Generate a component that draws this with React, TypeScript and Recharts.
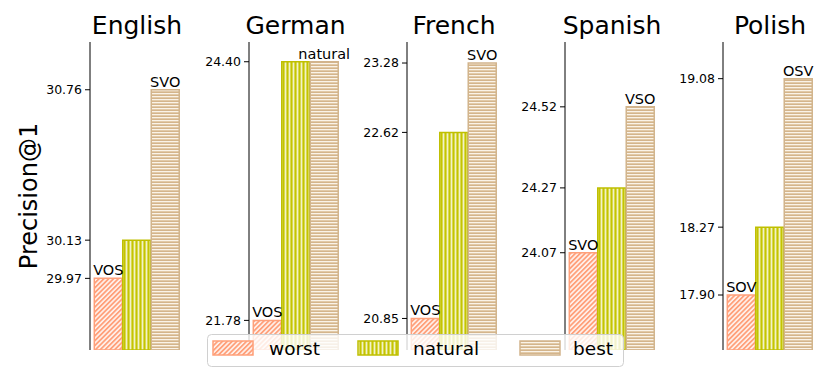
import React from 'react';
import { BarChart, Bar, XAxis, YAxis, Cell, LabelList } from 'recharts';

const languages = ['English', 'German', 'French', 'Spanish', 'Polish'];
const worstScores = [29.97, 21.78, 20.85, 24.07, 17.9];
const naturalScores = [30.13, 24.4, 22.62, 24.27, 18.27];
const bestScores = [30.76, 24.4, 23.28, 24.52, 19.08];
const worstOrders = ['VOS', 'VOS', 'VOS', 'SVO', 'SOV'];
const bestOrders = ['SVO', 'natural', 'SVO', 'VSO', 'OSV'];
const seriesNames = ['worst', 'natural', 'best'];

const FONT = 'DejaVu Sans, Verdana, sans-serif';
const AXIS_X = [90, 248.5, 407, 565, 723];
const PLOT_W = 94;
const YAXIS_W = 50;
const RIGHT_PAD = 20;
const EDGE: Record<string, string> = { worst: '#ffa07a', natural: '#bfbf00', best: '#d2b48c' };

function Patterns({ suffix }: { suffix: string }) {
  return (
    <defs>
      <pattern id={`pat-worst-${suffix}`} width="3.4" height="3.4" patternUnits="userSpaceOnUse" patternTransform="rotate(45)">
        <rect width="3.4" height="3.4" fill="#fff3ee" />
        <rect x="0" y="0" width="1.8" height="3.4" fill="#ffa07a" />
      </pattern>
      <pattern id={`pat-natural-${suffix}`} width="4" height="4" patternUnits="userSpaceOnUse">
        <rect width="4" height="4" fill="#d8d852" />
        <rect x="0" y="0" width="1" height="4" fill="#c4c400" />
        <rect x="2" y="0" width="1" height="4" fill="#f2f2c8" />
      </pattern>
      <pattern id={`pat-best-${suffix}`} width="3" height="3" patternUnits="userSpaceOnUse">
        <rect width="3" height="3" fill="#e2caa8" />
        <rect x="0" y="0" width="3" height="1" fill="#faf3e8" />
        <rect x="0" y="2" width="3" height="1" fill="#d4b58c" />
      </pattern>
    </defs>
  );
}

function Panel({ i }: { i: number }) {
  const data = [
    { name: 'worst', value: worstScores[i], label: worstOrders[i] },
    { name: 'natural', value: naturalScores[i], label: '' },
    { name: 'best', value: bestScores[i], label: bestOrders[i] },
  ];
  const ticks = Array.from(new Set([worstScores[i], naturalScores[i], bestScores[i]]));
  const domain = [worstScores[i] - 0.3, bestScores[i] + 0.2];
  return (
    <div style={{ position: 'absolute', left: AXIS_X[i] - YAXIS_W, top: 0 }}>
      <BarChart
        width={YAXIS_W + PLOT_W + RIGHT_PAD}
        height={369}
        data={data}
        margin={{ top: 42, right: RIGHT_PAD, bottom: 19, left: 0 }}
        barCategoryGap={0}
      >
        <Patterns suffix={String(i)} />
        <XAxis
          dataKey="name"
          tick={false}
          tickLine={false}
          height={0}
          axisLine={{ stroke: '#000', strokeWidth: 1 }}
          padding={{ left: 4.3, right: 4.3 }}
        />
        <YAxis
          type="number"
          domain={domain}
          allowDataOverflow
          ticks={ticks}
          interval={0}
          tickFormatter={(v: number) => v.toFixed(2)}
          width={YAXIS_W}
          tickSize={5}
          tickMargin={3}
          tick={{ fill: '#000', fontSize: 12.5, fontFamily: FONT }}
          axisLine={{ stroke: '#000', strokeWidth: 1 }}
          tickLine={{ stroke: '#000', strokeWidth: 1 }}
        />
        <Bar dataKey="value" isAnimationActive={false} strokeWidth={1.5}>
          {data.map((d) => (
            <Cell key={d.name} fill={`url(#pat-${d.name}-${i})`} stroke={EDGE[d.name]} />
          ))}
          <LabelList
            dataKey="label"
            position="top"
            offset={3}
            style={{ fontSize: 14.5, fill: '#000', fontFamily: FONT }}
          />
        </Bar>
      </BarChart>
    </div>
  );
}

const LEGEND_SWATCH_X = [213, 358, 520];
const LEGEND_TEXT_X = [269, 413, 573];

export default function App() {
  return (
    <div style={{ position: 'fixed', left: 0, top: 0, width: 830, height: 369, background: '#fff', overflow: 'hidden' }}>
      {languages.map((_, i) => (
        <Panel key={i} i={i} />
      ))}
      <svg
        width={830}
        height={369}
        style={{ position: 'absolute', left: 0, top: 0, pointerEvents: 'none' }}
        fontFamily={FONT}
      >
        <Patterns suffix="legend" />
        {languages.map((lang, i) => (
          <text key={lang} x={AXIS_X[i] + PLOT_W / 2} y={34} textAnchor="middle" fontSize={25} fill="#000">
            {lang}
          </text>
        ))}
        <text x={37} y={196} transform="rotate(-90 37 196)" textAnchor="middle" fontSize={24} fill="#000">
          Precision@1
        </text>
        <rect x={207.5} y={334.5} width={416} height={32} rx={4} fill="rgba(255,255,255,0.8)" stroke="#d0d0d0" strokeWidth={1} />
        {seriesNames.map((s, k) => (
          <g key={s}>
            <rect x={LEGEND_SWATCH_X[k]} y={341} width={40} height={14} fill={`url(#pat-${s}-legend)`} stroke={EDGE[s]} strokeWidth={1.5} />
            <text x={LEGEND_TEXT_X[k]} y={355} fontSize={18.5} fill="#000">
              {s}
            </text>
          </g>
        ))}
      </svg>
    </div>
  );
}
